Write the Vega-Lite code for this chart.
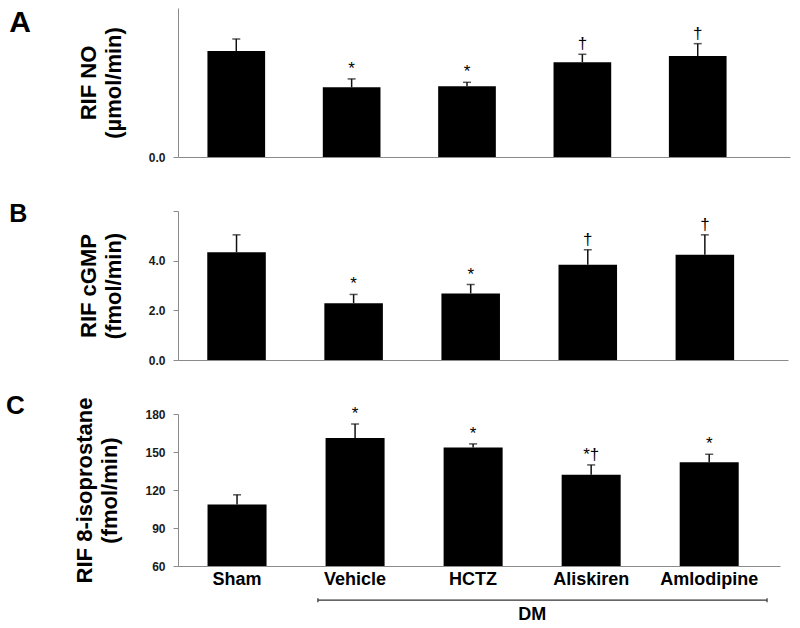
{
  "$schema": "https://vega.github.io/schema/vega-lite/v6.json",
  "padding": {"left": 5, "top": 8, "right": 5, "bottom": 2},
  "background": "white",
  "bounds": "flush",
  "spacing": 54,
  "datasets": {
    "d": [
      {"group": "Sham", "no": 1.067, "no_hi": 1.188, "no_sig": "", "cgmp": 4.34, "cgmp_hi": 5.04, "cgmp_sig": "", "iso": 108.6, "iso_hi": 116.2, "iso_sig": ""},
      {"group": "Vehicle", "no": 0.702, "no_hi": 0.786, "no_sig": "*", "cgmp": 2.29, "cgmp_hi": 2.64, "cgmp_sig": "*", "iso": 161.1, "iso_hi": 172.1, "iso_sig": "*"},
      {"group": "HCTZ", "no": 0.712, "no_hi": 0.752, "no_sig": "*", "cgmp": 2.68, "cgmp_hi": 3.04, "cgmp_sig": "*", "iso": 153.5, "iso_hi": 156.4, "iso_sig": "*"},
      {"group": "Aliskiren", "no": 0.954, "no_hi": 1.034, "no_sig": "†", "cgmp": 3.84, "cgmp_hi": 4.44, "cgmp_sig": "†", "iso": 132.0, "iso_hi": 139.8, "iso_sig": "*†"},
      {"group": "Amlodipine", "no": 1.017, "no_hi": 1.141, "no_sig": "†", "cgmp": 4.24, "cgmp_hi": 5.04, "cgmp_sig": "†", "iso": 141.9, "iso_hi": 148.2, "iso_sig": "*"}
    ],
    "dm": [{"label": "DM", "from": "Vehicle", "to": "Amlodipine"}]
  },
  "config": {
    "view": {"stroke": null},
    "font": "Liberation Sans",
    "axis": {
      "grid": false,
      "domainColor": "#8a8a8a",
      "tickColor": "#8a8a8a",
      "tickSize": 5,
      "labelFont": "Liberation Sans",
      "labelFontWeight": "bold",
      "labelFontSize": 12,
      "labelColor": "#1a1a1a",
      "labelPadding": 3,
      "titleFont": "Liberation Sans",
      "titleFontWeight": "bold",
      "titleFontSize": 22,
      "titleColor": "#000000",
      "titleLineHeight": 25,
      "titlePadding": 23
    },
    "axisY": {"labelPadding": 8, "labelOverlap": false, "labelSeparation": -30},
    "title": {"font": "Liberation Sans", "fontWeight": "bold", "anchor": "start", "frame": "bounds", "offset": 0, "color": "#000000"}
  },
  "vconcat": [
    {
      "title": {"text": "A", "dx": -68, "dy": 34, "fontSize": 30},
      "width": 612,
      "height": 149,
      "data": {"name": "d"},
      "layer": [
        {
          "mark": {"type": "bar", "color": "#000000"},
          "encoding": {
            "x": {"field": "group", "type": "nominal", "sort": null, "scale": {"domain": ["Sham", "Vehicle", "HCTZ", "Aliskiren", "Amlodipine"], "paddingInner": 0.5, "paddingOuter": 0.4025, "align": 0.317}, "axis": {"title": null, "labels": false, "ticks": false}},
            "y": {"field": "no", "type": "quantitative", "scale": {"domain": [0, 1.5], "nice": false}, "axis": {"title": ["RIF NO", "(µmol/min)"], "values": [0], "format": ".1f"}}
          }
        },
        {
          "mark": {"type": "rule", "color": "#111111", "strokeWidth": 1.5},
          "encoding": {
            "x": {"field": "group", "type": "nominal"},
            "y": {"field": "no", "type": "quantitative"},
            "y2": {"field": "no_hi"}
          }
        },
        {
          "mark": {"type": "tick", "color": "#111111", "thickness": 1.5, "size": 8},
          "encoding": {
            "x": {"field": "group", "type": "nominal"},
            "y": {"field": "no_hi", "type": "quantitative"}
          }
        },
        {
          "mark": {"type": "text", "baseline": "alphabetic", "dy": -5, "fontSize": 17, "color": "#000000"},
          "encoding": {
            "x": {"field": "group", "type": "nominal"},
            "y": {"field": "no_hi", "type": "quantitative"},
            "text": {"field": "no_sig"}
          }
        }
      ]
    },
    {
      "title": {"text": "B", "dx": -68, "dy": 26, "fontSize": 25},
      "width": 610,
      "height": 149,
      "data": {"name": "d"},
      "layer": [
        {
          "mark": {"type": "bar", "color": "#000000"},
          "encoding": {
            "x": {"field": "group", "type": "nominal", "sort": null, "scale": {"domain": ["Sham", "Vehicle", "HCTZ", "Aliskiren", "Amlodipine"], "paddingInner": 0.5, "paddingOuter": 0.355, "align": 0.352}, "axis": {"title": null, "labels": false, "ticks": false}},
            "y": {"field": "cgmp", "type": "quantitative", "scale": {"domain": [0, 6], "nice": false}, "axis": {"title": ["RIF cGMP", "(fmol/min)"], "values": [0, 2, 4, 6], "labelExpr": "datum.value == 6 ? '' : format(datum.value, '.1f')"}}
          }
        },
        {
          "mark": {"type": "rule", "color": "#111111", "strokeWidth": 1.5},
          "encoding": {
            "x": {"field": "group", "type": "nominal"},
            "y": {"field": "cgmp", "type": "quantitative"},
            "y2": {"field": "cgmp_hi"}
          }
        },
        {
          "mark": {"type": "tick", "color": "#111111", "thickness": 1.5, "size": 8},
          "encoding": {
            "x": {"field": "group", "type": "nominal"},
            "y": {"field": "cgmp_hi", "type": "quantitative"}
          }
        },
        {
          "mark": {"type": "text", "baseline": "alphabetic", "dy": -5, "fontSize": 17, "color": "#000000"},
          "encoding": {
            "x": {"field": "group", "type": "nominal"},
            "y": {"field": "cgmp_hi", "type": "quantitative"},
            "text": {"field": "cgmp_sig"}
          }
        }
      ]
    },
    {
      "title": {"text": "C", "dx": -68, "dy": 26, "fontSize": 26},
      "width": 602,
      "height": 152,
      "data": {"name": "d"},
      "layer": [
        {
          "mark": {"type": "bar", "color": "#000000"},
          "encoding": {
            "x": {"field": "group", "type": "nominal", "sort": null, "scale": {"domain": ["Sham", "Vehicle", "HCTZ", "Aliskiren", "Amlodipine"], "paddingInner": 0.5, "paddingOuter": 0.3, "align": 0.417}, "axis": {"title": null, "ticks": false, "labelFontSize": 18, "labelColor": "#000000", "labelPadding": 4, "labelAngle": 0}},
            "y": {"field": "iso", "type": "quantitative", "scale": {"domain": [60, 180], "nice": false, "zero": false}, "axis": {"title": ["RIF 8-isoprostane", "(fmol/min)"], "values": [60, 90, 120, 150, 180], "format": "d", "labelOverlap": false, "labelSeparation": -30}},
            "y2": {"datum": 60}
          }
        },
        {
          "mark": {"type": "rule", "color": "#111111", "strokeWidth": 1.5},
          "encoding": {
            "x": {"field": "group", "type": "nominal"},
            "y": {"field": "iso", "type": "quantitative", "axis": {"title": ["RIF 8-isoprostane", "(fmol/min)"], "values": [60, 90, 120, 150, 180], "format": "d", "labelOverlap": false, "labelSeparation": -30}},
            "y2": {"field": "iso_hi"}
          }
        },
        {
          "mark": {"type": "tick", "color": "#111111", "thickness": 1.5, "size": 8},
          "encoding": {
            "x": {"field": "group", "type": "nominal"},
            "y": {"field": "iso_hi", "type": "quantitative", "axis": {"title": ["RIF 8-isoprostane", "(fmol/min)"], "values": [60, 90, 120, 150, 180], "format": "d", "labelOverlap": false, "labelSeparation": -30}}
          }
        },
        {
          "mark": {"type": "text", "baseline": "alphabetic", "dy": -5, "fontSize": 17, "color": "#000000"},
          "encoding": {
            "x": {"field": "group", "type": "nominal"},
            "y": {"field": "iso_hi", "type": "quantitative", "axis": {"title": ["RIF 8-isoprostane", "(fmol/min)"], "values": [60, 90, 120, 150, 180], "format": "d", "labelOverlap": false, "labelSeparation": -30}},
            "text": {"field": "iso_sig"}
          }
        },
        {
          "data": {"name": "dm"},
          "mark": {"type": "rule", "color": "#333333", "strokeWidth": 1.2},
          "encoding": {
            "x": {"field": "from", "type": "nominal", "bandPosition": -0.13},
            "x2": {"field": "to", "bandPosition": 1.48},
            "y": {"datum": 33, "type": "quantitative", "axis": {"title": ["RIF 8-isoprostane", "(fmol/min)"], "values": [60, 90, 120, 150, 180], "format": "d", "labelOverlap": false, "labelSeparation": -30}}
          }
        },
        {
          "data": {"name": "dm"},
          "mark": {"type": "rule", "color": "#333333", "strokeWidth": 1.2},
          "encoding": {
            "x": {"field": "from", "type": "nominal", "bandPosition": -0.13},
            "y": {"datum": 31.4, "type": "quantitative", "axis": {"title": ["RIF 8-isoprostane", "(fmol/min)"], "values": [60, 90, 120, 150, 180], "format": "d", "labelOverlap": false, "labelSeparation": -30}},
            "y2": {"datum": 34.6}
          }
        },
        {
          "data": {"name": "dm"},
          "mark": {"type": "rule", "color": "#333333", "strokeWidth": 1.2},
          "encoding": {
            "x": {"field": "to", "type": "nominal", "bandPosition": 1.48},
            "y": {"datum": 31.4, "type": "quantitative", "axis": {"title": ["RIF 8-isoprostane", "(fmol/min)"], "values": [60, 90, 120, 150, 180], "format": "d", "labelOverlap": false, "labelSeparation": -30}},
            "y2": {"datum": 34.6}
          }
        },
        {
          "data": {"name": "dm"},
          "mark": {"type": "text", "baseline": "alphabetic", "fontSize": 18, "fontWeight": "bold", "color": "#000000"},
          "encoding": {
            "x": {"field": "from", "type": "nominal", "bandPosition": 3.5},
            "y": {"datum": 17.2, "type": "quantitative", "axis": {"title": ["RIF 8-isoprostane", "(fmol/min)"], "values": [60, 90, 120, 150, 180], "format": "d", "labelOverlap": false, "labelSeparation": -30}},
            "text": {"field": "label"}
          }
        }
      ]
    }
  ]
}
